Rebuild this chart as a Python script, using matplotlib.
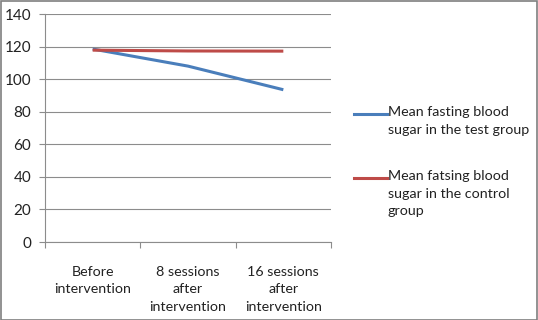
import numpy as np
import matplotlib
matplotlib.use("Agg")
import matplotlib.pyplot as plt
from matplotlib.lines import Line2D
from matplotlib.patches import Rectangle

plt.rcParams['font.family'] = ['Lato', 'DejaVu Sans']

# data
categories = ["Before\nintervention", "8 sessions\nafter\nintervention", "16 sessions\nafter\nintervention"]
test_group = [118.5, 108, 93.5]
control_group = [117.8, 117.3, 117.2]
series_labels = ["Mean fasting blood\nsugar in the test group",
                 "Mean fatsing blood\nsugar in the control\ngroup"]
series_colors = ["#4A7EBB", "#BE4B48"]
y_ticks = [0, 20, 40, 60, 80, 100, 120, 140]

W, H = 538, 320
fs = 10.3
fig = plt.figure(figsize=(W / 100, H / 100), dpi=100)
ax = fig.add_axes([45 / W, 1 - 242 / H, (331 - 45) / W, (242 - 14) / H])

x = np.arange(len(categories))
for vals, col in zip([test_group, control_group], series_colors):
    ax.plot(x, vals, color=col, lw=2.2, solid_capstyle='butt', zorder=3)

ax.set_xlim(-0.5, len(categories) - 0.5)
ax.set_ylim(0, 140)
ax.set_yticks(y_ticks)
ax.yaxis.grid(True, color='#8c8c8c', lw=0.8)
ax.set_axisbelow(True)

ax.set_xticks(x)
ax.set_xticklabels(categories, fontsize=fs, color='#222222', linespacing=1.55)
ax.tick_params(axis='x', which='major', length=0, pad=17)
ax.set_xticks(np.arange(len(categories) + 1) - 0.5, minor=True)
ax.tick_params(axis='x', which='minor', length=4, color='#8c8c8c', width=0.8)
ax.tick_params(axis='y', length=4, color='#8c8c8c', width=0.8, labelsize=11,
               labelcolor='#222222', pad=6)

for s in ['top', 'right']:
    ax.spines[s].set_visible(False)
for s in ['left', 'bottom']:
    ax.spines[s].set_color('#8c8c8c')
    ax.spines[s].set_linewidth(0.8)

# legend, handle aligned with first text line
legend_y = [114, 178]
for lab, col, ly in zip(series_labels, series_colors, legend_y):
    fig.add_artist(Line2D([354 / W, 387 / W], [1 - ly / H, 1 - ly / H],
                          color=col, lw=2.2, transform=fig.transFigure))
    fig.text(388 / W, 1 - (ly - 8) / H, lab, fontsize=fs, color='#222222',
             va='top', ha='left', linespacing=1.55)

# image frame
fig.patches.append(Rectangle((0.5 / W, 0.5 / H), 1 - 1.5 / W, 1 - 1.5 / H,
                             transform=fig.transFigure, fill=False,
                             edgecolor='#7f7f7f', lw=1.2))

fig.savefig("out.png", dpi=100)
